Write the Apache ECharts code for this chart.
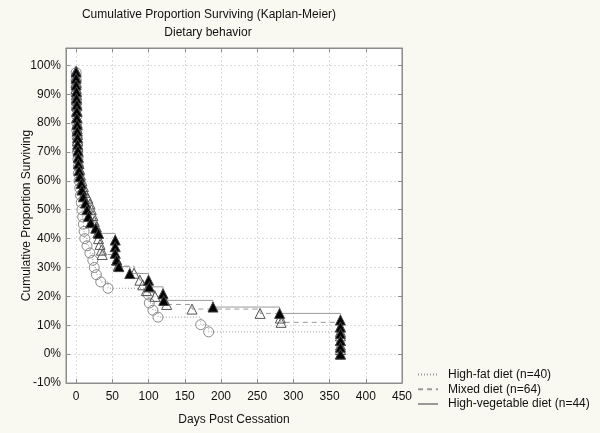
<!DOCTYPE html>
<html>
<head>
<meta charset="utf-8">
<script src="https://cdn.jsdelivr.net/npm/echarts@6/dist/echarts.min.js"></script>
<style>
html,body{margin:0;padding:0;background:#f9f9f1;}
#chart{width:600px;height:433px;}
</style>
</head>
<body>
<div id="chart"></div>
<script>
// ---- data ----
const seriesNames = ['High-fat diet (n=40)', 'Mixed diet (n=64)', 'High-vegetable diet (n=44)'];
const xTicks = [0, 50, 100, 150, 200, 250, 300, 350, 400, 450];
const yTicks = [-0.1, 0, 0.1, 0.2, 0.3, 0.4, 0.5, 0.6, 0.7, 0.8, 0.9, 1.0];

// High-fat diet (circles, dotted)
const highFatDays = [0, 0, 0, 0, 0.5, 0.5, 1, 1, 1, 1.5, 2, 2, 2.5, 3, 3, 4, 5, 6, 7, 8,
  9, 10, 11, 12, 15, 19, 23, 25, 28, 34, 44, 100, 101, 106, 113, 172, 183, 365];
const highFatSurv = [0.975, 0.95, 0.925, 0.9, 0.875, 0.85, 0.825, 0.8, 0.775, 0.75, 0.725, 0.7, 0.675, 0.65, 0.625, 0.6, 0.575, 0.55, 0.525, 0.5,
  0.475, 0.45, 0.425, 0.4, 0.375, 0.35, 0.325, 0.3, 0.275, 0.25, 0.228, 0.205, 0.177, 0.152, 0.128, 0.102, 0.077, 0.077];

// Mixed diet (hollow triangles, dashed)
const mixedDays = [0, 0, 0, 0, 0.5, 0.5, 1, 1, 1, 1.5, 1.5, 2, 2, 2.5, 3, 3, 4, 5, 6, 8, 10, 12,
  16, 19, 21, 23, 25, 28, 30, 31, 33, 35, 36, 56, 58, 80, 88, 92, 97, 109, 125, 160, 254, 282, 283,
  365, 365, 365, 365, 365, 365, 365];
const mixedSurv = [0.98, 0.96, 0.94, 0.92, 0.9, 0.88, 0.86, 0.84, 0.82, 0.8, 0.78, 0.76, 0.74, 0.72, 0.7, 0.68, 0.66, 0.64, 0.62, 0.6, 0.58, 0.56,
  0.54, 0.52, 0.5, 0.48, 0.46, 0.44, 0.42, 0.4, 0.38, 0.36, 0.345, 0.325, 0.305, 0.28, 0.256, 0.24, 0.22, 0.2, 0.172, 0.156, 0.141, 0.125, 0.11,
  0.094, 0.078, 0.063, 0.047, 0.031, 0.016, 0.0];

// High-vegetable diet (filled triangles, solid)
const highVegDays = [0, 0, 0, 0.5, 0.5, 1, 1, 1, 1.5, 1.5, 2, 2, 2.5, 3, 3, 4, 5, 7, 8, 10, 13, 15, 17, 20, 27, 31,
  54, 54, 54, 56, 59, 74, 100, 101, 120, 121, 189, 281, 365, 365, 365, 365, 365, 365];
const highVegSurv = [0.977, 0.955, 0.932, 0.909, 0.886, 0.864, 0.841, 0.818, 0.795, 0.773, 0.75, 0.727, 0.705, 0.682, 0.659, 0.636, 0.614, 0.591, 0.568, 0.545, 0.523, 0.5, 0.477, 0.455, 0.436, 0.418,
  0.395, 0.372, 0.349, 0.326, 0.303, 0.279, 0.256, 0.233, 0.209, 0.186, 0.163, 0.141, 0.118, 0.094, 0.071, 0.047, 0.024, 0.0];

function zip(days, surv) { return days.map((d, i) => [d, surv[i]]); }

const font = 'Liberation Sans, Arial, Helvetica, sans-serif';
const chart = echarts.init(document.getElementById('chart'), null, {renderer: 'canvas'});

const highFatData = zip(highFatDays, highFatSurv).map((p, i, arr) =>
  i === arr.length - 1 ? {value: p, symbol: 'none'} : p);

const axisLineStyle = {color: '#8c8c8c', width: 1};
const tickStyle = {color: '#8c8c8c', width: 1};

const option = {
  backgroundColor: '#f9f9f1',
  animation: false,
  textStyle: {fontFamily: font},
  graphic: [
    {type: 'text', x: 209, y: 9, style: {text: 'Cumulative Proportion Surviving (Kaplan-Meier)', textAlign: 'center', fill: '#111', font: '12px ' + font}},
    {type: 'text', x: 208, y: 27, style: {text: 'Dietary behavior', textAlign: 'center', fill: '#111', font: '12px ' + font}}
  ],
  grid: {left: 66, top: 48, width: 336, height: 335, show: true, backgroundColor: '#ffffff', borderColor: '#8c8c8c', borderWidth: 1},
  legend: {
    orient: 'vertical', left: 417, top: 368, padding: 0, itemWidth: 20, itemHeight: 14, itemGap: 1.5,
    itemStyle: {opacity: 0},
    textStyle: {fontSize: 12, color: '#111', fontFamily: font, padding: [0, 0, 0, 5]},
    data: seriesNames
  },
  xAxis: [
    {
      type: 'value', min: -14, max: 450, position: 'bottom',
      axisLine: {show: true, onZero: false, lineStyle: axisLineStyle},
      axisTick: {show: true, inside: true, length: 4, customValues: xTicks, lineStyle: tickStyle},
      axisLabel: {customValues: xTicks, color: '#111', fontSize: 12, margin: 8, fontFamily: font},
      splitLine: {show: true, lineStyle: {color: '#dcdcdc', type: [2, 2]}},
      name: 'Days Post Cessation', nameLocation: 'middle', nameGap: 31,
      nameTextStyle: {fontSize: 12, color: '#111', fontFamily: font}
    },
    {
      type: 'value', min: -14, max: 450, position: 'top',
      axisLine: {show: true, onZero: false, lineStyle: axisLineStyle},
      axisTick: {show: true, inside: true, length: 4, customValues: xTicks, lineStyle: tickStyle},
      axisLabel: {show: false}, splitLine: {show: false}
    }
  ],
  yAxis: [
    {
      type: 'value', min: -0.1, max: 1.06, position: 'left',
      axisLine: {show: true, onZero: false, lineStyle: axisLineStyle},
      axisTick: {show: true, inside: true, length: 4, customValues: yTicks, lineStyle: tickStyle},
      axisLabel: {customValues: yTicks, color: '#111', fontSize: 12, margin: 5, fontFamily: font,
        formatter: v => Math.round(v * 100) + '%'},
      splitLine: {show: true, lineStyle: {color: '#dcdcdc', type: [2, 2]}},
      name: 'Cumulative Proportion Surviving', nameLocation: 'middle', nameGap: 33,
      nameMoveOverlap: false,
      nameTextStyle: {fontSize: 12, color: '#111', fontFamily: font}
    },
    {
      type: 'value', min: -0.1, max: 1.06, position: 'right',
      axisLine: {show: true, onZero: false, lineStyle: axisLineStyle},
      axisTick: {show: true, inside: true, length: 4, customValues: yTicks, lineStyle: tickStyle},
      axisLabel: {show: false}, splitLine: {show: false}
    }
  ],
  series: [
    {
      name: seriesNames[0], type: 'line', step: 'end', xAxisIndex: 0, yAxisIndex: 0,
      data: highFatData, symbol: 'circle', symbolSize: 10, showAllSymbol: true,
      lineStyle: {color: '#9a9a9a', width: 1, type: [1, 2]},
      itemStyle: {color: 'rgba(255,255,255,0)', borderColor: '#8a8a8a', borderWidth: 1},
      z: 2
    },
    {
      name: seriesNames[1], type: 'line', step: 'end', xAxisIndex: 0, yAxisIndex: 0,
      data: zip(mixedDays, mixedSurv), symbol: 'triangle', symbolSize: 10, showAllSymbol: true,
      lineStyle: {color: '#9a9a9a', width: 1, type: [5, 4]},
      itemStyle: {color: 'rgba(255,255,255,0)', borderColor: '#555555', borderWidth: 1},
      z: 3
    },
    {
      name: seriesNames[2], type: 'line', step: 'end', xAxisIndex: 0, yAxisIndex: 0,
      data: zip(highVegDays, highVegSurv), symbol: 'triangle', symbolSize: 10, showAllSymbol: true,
      lineStyle: {color: '#9a9a9a', width: 1, type: 'solid'},
      itemStyle: {color: '#000000', borderColor: '#444444', borderWidth: 1},
      z: 4
    }
  ]
};
chart.setOption(option);
</script>
</body>
</html>
